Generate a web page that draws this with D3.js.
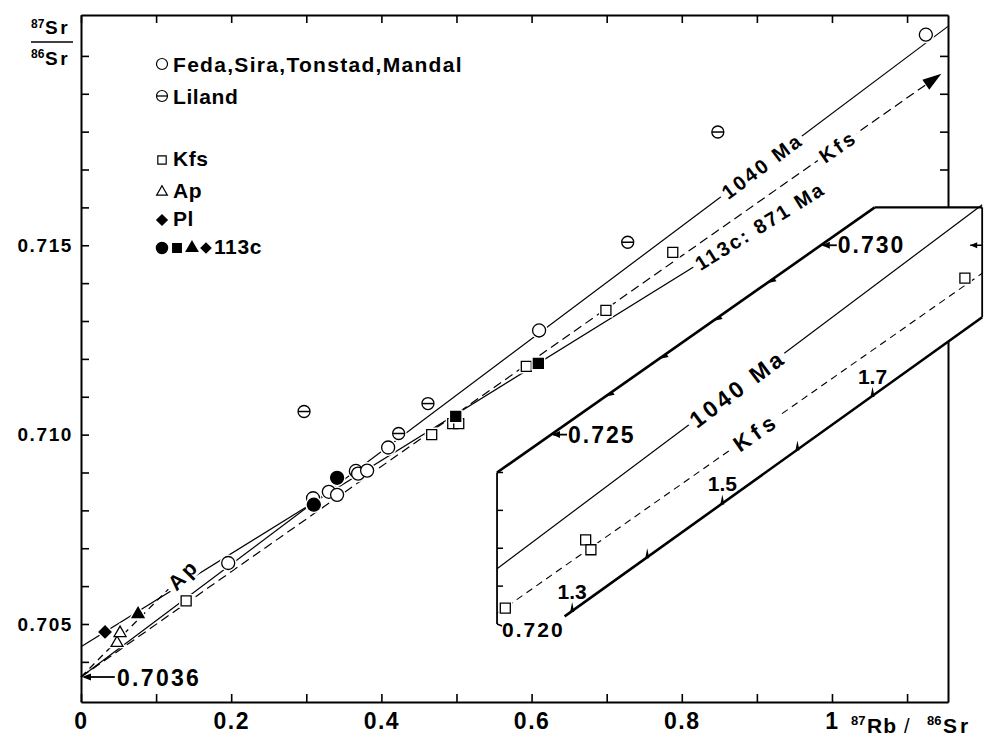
<!DOCTYPE html>
<html>
<head>
<meta charset="utf-8">
<script src="https://cdn.jsdelivr.net/npm/d3@7"></script>
<style>
  body { margin: 0; background: #fff; }
  svg { display: block; font-family: "Liberation Sans", Arial, Helvetica, sans-serif; font-weight: bold; }
</style>
</head>
<body>
<div id="chart"></div>
<script>
// ---------- data ----------
var xTickValues = [0, 0.1, 0.2, 0.3, 0.4, 0.5, 0.6, 0.7, 0.8, 0.9, 1.0, 1.1];
var xTickLabels = ["0", "", "0.2", "", "0.4", "", "0.6", "", "0.8", "", "1", ""];
var yTickValues = [0.704, 0.705, 0.706, 0.707, 0.708, 0.709, 0.710, 0.711, 0.712,
                   0.713, 0.714, 0.715, 0.716, 0.717, 0.718, 0.719, 0.720];
var yTickLabels = ["", "0.705", "", "", "", "", "0.710", "", "", "", "", "0.715", "", "", "", "", ""];
var yRightTicks = [0.717, 0.718, 0.719, 0.720];

// whole rocks
var fedaX = [0.196, 0.309, 0.330, 0.341, 0.366, 0.369, 0.381, 0.409, 0.610, 1.125];
var fedaY = [0.70661, 0.70832, 0.70849, 0.70841, 0.70904, 0.70897, 0.70905, 0.70966, 0.71275, 0.72056];
var lilandX = [0.297, 0.423, 0.462, 0.728, 0.848];
var lilandY = [0.71061, 0.71003, 0.71082, 0.71508, 0.71799];
// minerals
var kfsX = [0.140, 0.467, 0.495, 0.503, 0.593, 0.699, 0.788];
var kfsY = [0.70561, 0.71000, 0.71029, 0.71029, 0.71180, 0.71328, 0.71481];
var apX = [0.048, 0.052];
var apY = [0.70450, 0.70476];
// sample 113c
var s113CircleX = [0.310, 0.341],  s113CircleY = [0.70815, 0.70886];
var s113SquareX = [0.499, 0.609],  s113SquareY = [0.71048, 0.71188];
var s113TriangleX = [0.076],       s113TriangleY = [0.70526];
var s113DiamondX = [0.032],        s113DiamondY = [0.70479];
// inset (high Rb/Sr K-feldspars)
var insetKfsX = [1.211, 1.318, 1.325, 1.823];
var insetKfsY = [0.72042, 0.72222, 0.72196, 0.72913];

// reference lines (end points)
var line1040 = [[0, 0.7036], [1.1545, 0.72078]];
var lineKfs  = [[0, 0.7036], [1.143, 0.71949]];
var line113c = [[0, 0.7044], [0.96, 0.71620]];
var lineAp   = [[0, 0.7036], [0.15, 0.70659]];
var insetLine1040 = [[1.2, 0.72146], [1.846, 0.73107]];
var insetLineKfs  = [[1.2, 0.72028], [1.846, 0.72926]];
// inset outline
var insetLeftEdge   = [[1.2, 0.720], [1.2, 0.724]];
var insetUpperEdge  = [[1.2, 0.724], [1.703, 0.731]];
var insetTopEdge    = [[1.703, 0.731], [1.846, 0.731]];
var insetRightEdge  = [[1.846, 0.731], [1.846, 0.7281]];
var insetBottomAxis = [[1.29, 0.7202], [1.846, 0.7281]];
var insetLeftTicks  = [0.721, 0.722, 0.723, 0.724];
var insetUpperTicks = [0.726, 0.727, 0.728, 0.729];
var insetUpperLabels = [0.725, 0.730];
var insetBottomTicks = [1.3, 1.4, 1.5, 1.6, 1.7];
var insetBottomLabels = [1.3, 1.5, 1.7];

// ---------- canvas ----------
var width = 984, height = 740;
var margin = {top: 15, right: 36, bottom: 38, left: 81};
var svg = d3.select("#chart").append("svg")
    .attr("width", width).attr("height", height);

var x = d3.scaleLinear().domain([0, 1.1545]).range([margin.left, width - margin.right]);
var y = d3.scaleLinear().domain([0.70294, 0.72108]).range([height - margin.bottom, margin.top]);
// inset is the same plot shifted
var insetShiftX = 0.646, insetShiftY = 0.015;
var xi = function(v) { return x(v - insetShiftX); };
var yi = function(v) { return y(v - insetShiftY); };

function styleAxis(g) {
  g.attr("font-family", null).attr("font-size", null);
  g.select(".domain").attr("stroke-width", 2);
  g.selectAll(".tick line").attr("stroke-width", 1.6);
}

// ---------- axes ----------
svg.append("g")
    .attr("transform", "translate(0," + y.range()[0] + ")")
    .call(d3.axisBottom(x).tickValues(xTickValues).tickSize(-8).tickSizeOuter(0).tickPadding(11)
          .tickFormat(function(d, i) { return xTickLabels[i]; }))
    .call(styleAxis)
    .selectAll("text").attr("font-size", 23).attr("letter-spacing", 1.5);

svg.append("g")
    .attr("transform", "translate(0," + y.range()[1] + ")")
    .call(d3.axisTop(x).tickValues(xTickValues).tickSize(-8).tickSizeOuter(0).tickFormat(""))
    .call(styleAxis);

svg.append("g")
    .attr("transform", "translate(" + x.range()[0] + ",0)")
    .call(d3.axisLeft(y).tickValues(yTickValues).tickSize(-8).tickSizeOuter(0).tickPadding(8)
          .tickFormat(function(d, i) { return yTickLabels[i]; }))
    .call(styleAxis)
    .selectAll("text").attr("font-size", 19).attr("letter-spacing", 1.6);

svg.append("g")
    .attr("transform", "translate(" + x.range()[1] + ",0)")
    .call(d3.axisRight(y).tickValues(yRightTicks).tickSize(-8).tickSizeOuter(0).tickFormat(""))
    .call(styleAxis);

// axis titles
svg.append("text").attr("x", 31).attr("y", 28).attr("font-size", 12).text("87");
svg.append("text").attr("x", 45).attr("y", 34).attr("font-size", 19).attr("letter-spacing", 2.5).text("Sr");
svg.append("line").attr("x1", 31).attr("x2", 73).attr("y1", 42).attr("y2", 42)
    .attr("stroke", "#000").attr("stroke-width", 1.5);
svg.append("text").attr("x", 31).attr("y", 58).attr("font-size", 12).text("86");
svg.append("text").attr("x", 45).attr("y", 65).attr("font-size", 19).attr("letter-spacing", 2.5).text("Sr");

svg.append("text").attr("x", 851).attr("y", 725).attr("font-size", 13).text("87");
svg.append("text").attr("x", 867).attr("y", 733).attr("font-size", 21).attr("letter-spacing", 1).text("Rb");
svg.append("text").attr("x", 904).attr("y", 733).attr("font-size", 20).attr("font-weight", "normal").text("/");
svg.append("text").attr("x", 927).attr("y", 725).attr("font-size", 13).text("86");
svg.append("text").attr("x", 943).attr("y", 733).attr("font-size", 21).attr("letter-spacing", 3).text("Sr");

// ---------- helpers ----------
var lineGen = function(sx, sy) {
  return d3.line().x(function(d) { return sx(d[0]); }).y(function(d) { return sy(d[1]); });
};
function drawLine(pts, sx, sy, dash, w) {
  svg.append("path").datum(pts)
      .attr("d", lineGen(sx, sy))
      .attr("fill", "none").attr("stroke", "#000")
      .attr("stroke-width", w || 1.2)
      .attr("stroke-dasharray", dash || null);
}
function pointOn(pts, xv) {
  var t = (xv - pts[0][0]) / (pts[1][0] - pts[0][0]);
  return [xv, pts[0][1] + t * (pts[1][1] - pts[0][1])];
}
function angleOf(pts, sx, sy) {
  return Math.atan2(sy(pts[1][1]) - sy(pts[0][1]), sx(pts[1][0]) - sx(pts[0][0])) * 180 / Math.PI;
}
function lineLabel(pts, xv, txt, sx, sy, size, spacing) {
  var p = pointOn(pts, xv);
  var g = svg.append("g")
      .attr("transform", "translate(" + sx(p[0]) + "," + sy(p[1]) + ")rotate(" + angleOf(pts, sx, sy) + ")");
  var t = g.append("text").attr("text-anchor", "middle").attr("dy", "0.36em")
      .attr("font-size", size).attr("letter-spacing", spacing).text(txt);
  var b = t.node().getBBox();
  g.insert("rect", "text").attr("x", b.x - 4).attr("y", b.y + 1)
      .attr("width", b.width + 6).attr("height", b.height - 2).attr("fill", "#fff");
}
// diamond = square turned by 45 degrees
var symbols = {
  circle: {type: d3.symbolCircle, size: 133, rot: 0},
  square: {type: d3.symbolSquare, size: 100, rot: 0},
  triangle: {type: d3.symbolTriangle, size: 62, rot: 0},
  diamond: {type: d3.symbolSquare, size: 72, rot: 45}
};
function drawMarkers(xs, ys, kind, filled, sx, sy) {
  var s = symbols[kind];
  var path = d3.symbol().type(s.type).size(s.size)();
  var pts = xs.map(function(v, i) { return [v, ys[i]]; });
  var pos = function(d) { return "translate(" + sx(d[0]) + "," + sy(d[1]) + ")rotate(" + s.rot + ")"; };
  var g = svg.append("g");
  g.selectAll("path.halo").data(pts).enter().append("path")
      .attr("d", path).attr("transform", pos)
      .attr("fill", "#fff").attr("stroke", "#fff").attr("stroke-width", 4);
  g.selectAll("path.mark").data(pts).enter().append("path")
      .attr("d", path).attr("transform", pos)
      .attr("fill", filled ? "#000" : "#fff").attr("stroke", "#000").attr("stroke-width", 1.3);
}
function drawLiland(cx, cy, r) {
  var g = svg.append("g").attr("transform", "translate(" + cx + "," + cy + ")");
  g.append("circle").attr("r", r + 2).attr("fill", "#fff");
  g.append("circle").attr("r", r).attr("fill", "#fff").attr("stroke", "#000").attr("stroke-width", 1.3);
  g.append("line").attr("x1", -r).attr("x2", r).attr("stroke", "#000").attr("stroke-width", 1.5);
}
function arrowHead(px, py, ang, len, half) {
  var ux = Math.cos(ang), uy = Math.sin(ang);
  var bx = px - ux * len, by = py - uy * len;
  svg.append("path")
      .attr("d", "M" + px + "," + py + "L" + (bx - uy * half) + "," + (by + ux * half) +
                 "L" + (bx + uy * half) + "," + (by - ux * half) + "Z")
      .attr("fill", "#000");
}

// ---------- main lines ----------
drawLine(line1040, x, y);
drawLine(lineKfs, x, y, "9,5");
drawLine(line113c, x, y);
drawLine(lineAp, x, y, "7,5");
(function() {
  var e = lineKfs[1];
  arrowHead(x(e[0]) + 2, y(e[1]) - 1.4, angleOf(lineKfs, x, y) * Math.PI / 180, 19, 6);
})();

// ---------- inset ----------
var outline = [insetLeftEdge[0], insetLeftEdge[1], insetUpperEdge[1], insetTopEdge[1],
               insetRightEdge[1], insetBottomAxis[0]];
svg.append("path").datum(outline)
    .attr("d", lineGen(xi, yi).curve(d3.curveLinearClosed))
    .attr("fill", "#fff").attr("stroke", "none");
drawLine(insetLeftEdge, xi, yi, null, 1.8);
drawLine(insetUpperEdge, xi, yi, null, 2.6);
drawLine(insetTopEdge, xi, yi, null, 2.2);
drawLine(insetRightEdge, xi, yi, null, 1.8);
drawLine(insetBottomAxis, xi, yi, null, 2.6);
drawLine(insetLine1040, xi, yi, null, 1.2);
drawLine(insetLineKfs, xi, yi, "7,5", 1.1);

// left edge ticks and bottom hook
svg.append("g").selectAll("line").data(insetLeftTicks).enter().append("line")
    .attr("x1", xi(1.2)).attr("x2", xi(1.2) + 6)
    .attr("y1", function(d) { return yi(d); }).attr("y2", function(d) { return yi(d); })
    .attr("stroke", "#000").attr("stroke-width", 1.5);
svg.append("line").attr("x1", xi(1.2)).attr("x2", xi(1.2) + 5)
    .attr("y1", yi(0.720)).attr("y2", yi(0.720) + 2).attr("stroke", "#000").attr("stroke-width", 1.5);

// barbs along the slanted 87Sr/86Sr edge
var upperAng = angleOf(insetUpperEdge, xi, yi) * Math.PI / 180;
function upperPoint(v) {
  var t = (v - insetUpperEdge[0][1]) / (insetUpperEdge[1][1] - insetUpperEdge[0][1]);
  var xv = insetUpperEdge[0][0] + t * (insetUpperEdge[1][0] - insetUpperEdge[0][0]);
  return [xi(xv), yi(v)];
}
insetUpperTicks.forEach(function(v) {
  var p = upperPoint(v);
  var ux = Math.cos(upperAng), uy = Math.sin(upperAng);
  svg.append("path")
      .attr("d", "M" + p[0] + "," + p[1] + "L" + (p[0] + ux * 9 - uy * 4) + "," + (p[1] + uy * 9 + ux * 4) +
                 "L" + (p[0] + ux * 9) + "," + (p[1] + uy * 9) + "Z")
      .attr("fill", "#000");
});
insetUpperLabels.forEach(function(v) {
  var p = upperPoint(v);
  svg.append("line").attr("x1", p[0] + 2).attr("x2", p[0] + 16).attr("y1", p[1]).attr("y2", p[1])
      .attr("stroke", "#000").attr("stroke-width", 1.8);
  arrowHead(p[0] + 1, p[1], Math.PI, 8, 3.5);
  svg.append("text").attr("x", p[0] + 17).attr("y", p[1] + 8)
      .attr("font-size", 23).attr("letter-spacing", 2).text(v.toFixed(3));
});
// right edge tick at 0.730
svg.append("line").attr("x1", xi(1.846) - 12).attr("x2", xi(1.846)).attr("y1", yi(0.730)).attr("y2", yi(0.730))
    .attr("stroke", "#000").attr("stroke-width", 1.5);
arrowHead(xi(1.846) - 12, yi(0.730), Math.PI, 7, 3);
svg.append("text").attr("x", xi(1.2) + 5).attr("y", yi(0.720) + 13)
    .attr("font-size", 21).attr("letter-spacing", 2).text("0.720");

// Rb/Sr ticks on the inset bottom axis
insetBottomTicks.forEach(function(v) {
  var p = pointOn(insetBottomAxis, v);
  svg.append("path")
      .attr("d", "M" + (xi(v) - 2) + "," + (yi(p[1]) + 1) + "L" + xi(v) + "," + (yi(p[1]) - 9) +
                 "L" + (xi(v) + 2) + "," + (yi(p[1]) + 1) + "Z")
      .attr("fill", "#000");
});
insetBottomLabels.forEach(function(v) {
  var p = pointOn(insetBottomAxis, v);
  svg.append("text").attr("x", xi(v)).attr("y", yi(p[1]) - 12)
      .attr("text-anchor", "middle").attr("font-size", 21).text(v.toFixed(1));
});

// ---------- markers ----------
drawMarkers(fedaX, fedaY, "circle", false, x, y);
lilandX.forEach(function(v, i) { drawLiland(x(v), y(lilandY[i]), 6); });
drawMarkers(kfsX, kfsY, "square", false, x, y);
drawMarkers(apX, apY, "triangle", false, x, y);
drawMarkers(s113CircleX, s113CircleY, "circle", true, x, y);
drawMarkers(s113SquareX, s113SquareY, "square", true, x, y);
drawMarkers(s113TriangleX, s113TriangleY, "triangle", true, x, y);
drawMarkers(s113DiamondX, s113DiamondY, "diamond", true, x, y);
drawMarkers(insetKfsX, insetKfsY, "square", false, xi, yi);

// ---------- line labels ----------
lineLabel(line1040, 0.907, "1040 Ma", x, y, 20, 2.5);
lineLabel(lineKfs, 1.008, "Kfs", x, y, 20, 3);
lineLabel(line113c, 0.904, "113c: 871 Ma", x, y, 20, 2.2);
lineLabel(lineAp, 0.136, "Ap", x, y, 21, 3);
lineLabel(insetLine1040, 1.52, "1040 Ma", xi, yi, 23, 3.4);
lineLabel(insetLineKfs, 1.545, "Kfs", xi, yi, 22, 5);

// initial ratio arrow
svg.append("line").attr("x1", x(0.045)).attr("x2", x(0) + 6)
    .attr("y1", y(0.7036)).attr("y2", y(0.7036)).attr("stroke", "#000").attr("stroke-width", 1.8);
arrowHead(x(0) + 1, y(0.7036), Math.PI, 9, 3.5);
svg.append("text").attr("x", x(0.048)).attr("y", y(0.7036) + 9)
    .attr("font-size", 23).attr("letter-spacing", 2.3).text("0.7036");

// ---------- legend ----------
var legend = svg.append("g").attr("font-size", 21);
function legendSymbol(kind, filled, cx, cy, size, rot) {
  legend.append("path")
      .attr("d", d3.symbol().type(kind).size(size)())
      .attr("transform", "translate(" + cx + "," + cy + ")rotate(" + (rot || 0) + ")")
      .attr("fill", filled ? "#000" : "#fff").attr("stroke", "#000").attr("stroke-width", 1.2);
}
legendSymbol(d3.symbolCircle, false, 162, 64, 95);
legend.append("text").attr("x", 173).attr("y", 72).attr("letter-spacing", 1.3).text("Feda,Sira,Tonstad,Mandal");
legend.append("circle").attr("cx", 162).attr("cy", 96).attr("r", 5.5)
    .attr("fill", "#fff").attr("stroke", "#000").attr("stroke-width", 1.2);
legend.append("line").attr("x1", 156.5).attr("x2", 167.5).attr("y1", 96).attr("y2", 96)
    .attr("stroke", "#000").attr("stroke-width", 1.3);
legend.append("text").attr("x", 173).attr("y", 104).attr("letter-spacing", 0.6).text("Liland");
legendSymbol(d3.symbolSquare, false, 162, 160, 70);
legend.append("text").attr("x", 173).attr("y", 166).attr("letter-spacing", 0.6).text("Kfs");
legendSymbol(d3.symbolTriangle, false, 162, 192, 50);
legend.append("text").attr("x", 173).attr("y", 198).attr("letter-spacing", 0.6).text("Ap");
legendSymbol(d3.symbolSquare, true, 162, 220, 55, 45);
legend.append("text").attr("x", 173).attr("y", 226).attr("letter-spacing", 0.6).text("Pl");
legendSymbol(d3.symbolCircle, true, 162, 248, 100);
legendSymbol(d3.symbolSquare, true, 177, 248, 75);
legendSymbol(d3.symbolTriangle, true, 192, 248, 60);
legendSymbol(d3.symbolSquare, true, 206, 248, 50, 45);
legend.append("text").attr("x", 214).attr("y", 254).attr("letter-spacing", 0.6).text("113c");
</script>
</body>
</html>
